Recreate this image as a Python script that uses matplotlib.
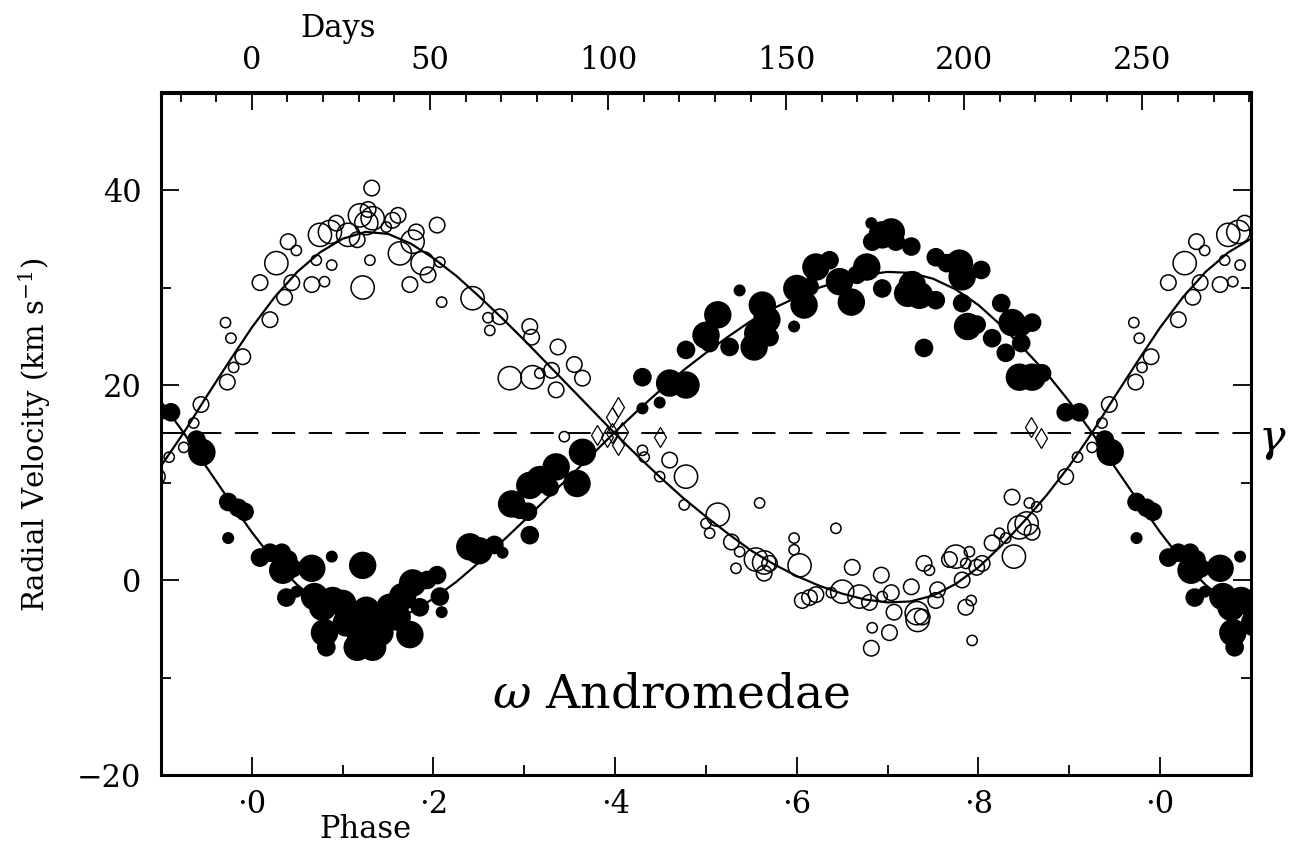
import numpy as np
import matplotlib
matplotlib.use('Agg')
import matplotlib.pyplot as plt
from matplotlib.ticker import MultipleLocator, FixedLocator

plt.rcParams['font.family'] = ['DejaVu Serif']
plt.rcParams['mathtext.fontset'] = 'dejavuserif'

PERIOD = 255.0     # days per phase unit (top axis)
GAMMA = 15.1       # systemic velocity

# primary (open circles): phase, velocity, size class
open_phase = [0.009, 0.020, 0.027, 0.040, 0.049, 0.036, 0.044, 0.066, 0.080, 0.071,
              0.088, 0.075, 0.086, 0.093, 0.116, 0.106, 0.119, 0.126, 0.133, 0.128,
              0.132, 0.130, 0.122, 0.148, 0.155, 0.161, 0.163, 0.177, 0.181, 0.188,
              0.194, 0.174, 0.204, 0.207, 0.209, 0.243, 0.260, 0.262, 0.273, 0.306,
              0.308, 0.337, 0.284, 0.309, 0.317, 0.330, 0.335, 0.355, 0.364, 0.344,
              0.430, 0.432, 0.460, 0.478, 0.449, 0.476, 0.500, 0.504, 0.513, 0.528,
              0.537, 0.533, 0.559, 0.555, 0.564, 0.564, 0.570, 0.597, 0.597, 0.603,
              0.643, 0.606, 0.614, 0.621, 0.638, 0.650, 0.661, 0.669, 0.680, 0.693,
              0.694, 0.704, 0.707, 0.683, 0.702, 0.682, 0.726, 0.732, 0.733, 0.738,
              0.755, 0.753, 0.740, 0.746, 0.768, 0.775, 0.786, 0.782, 0.786, 0.792,
              0.790, 0.793, 0.798, 0.804, 0.815, 0.823, 0.830, 0.837, 0.839, 0.845,
              0.853, 0.856, 0.864, 0.859, 0.896, 0.909, 0.925, 0.936, 0.944, 0.971,
              0.977, 0.990, 0.980, 0.973]
open_vel = [30.5, 26.7, 32.5, 34.7, 33.8, 29.0, 30.5, 30.3, 30.6, 32.8,
            32.3, 35.4, 35.7, 36.6, 34.9, 35.4, 37.4, 36.6, 37.1, 38.0,
            40.2, 32.8, 30.0, 36.2, 36.9, 37.4, 33.5, 34.7, 35.7, 32.5,
            31.3, 30.3, 36.4, 32.6, 28.5, 28.9, 26.9, 25.6, 27.0, 26.0,
            24.9, 23.9, 20.7, 20.8, 21.2, 21.5, 19.5, 22.1, 20.7, 14.7,
            13.3, 12.6, 12.3, 10.6, 10.6, 7.7, 5.8, 4.8, 6.7, 3.9,
            2.9, 1.2, 7.9, 2.1, 1.8, 0.7, 1.7, 4.3, 3.1, 1.5,
            5.3, -2.1, -1.8, -1.5, -1.3, -1.2, 1.3, -1.7, -2.3, 0.5,
            -1.7, -1.3, -3.3, -4.9, -5.4, -7.0, -0.7, -3.4, -4.1, -3.8,
            -1.0, -2.1, 1.7, 1.0, 2.1, 2.4, 1.7, 0.0, -2.8, -2.1,
            2.9, -6.2, 1.3, 1.7, 3.8, 4.8, 4.3, 8.5, 2.4, 5.4,
            5.8, 7.9, 7.5, 4.9, 10.6, 12.6, 13.6, 16.1, 18.0, 26.4,
            24.8, 22.9, 21.8, 20.3]
open_size = [2, 2, 3, 2, 1, 2, 2, 2, 1, 1,
             1, 3, 3, 2, 2, 3, 3, 3, 3, 2,
             2, 1, 3, 1, 2, 2, 3, 3, 2, 3,
             2, 2, 2, 1, 1, 3, 1, 1, 2, 2,
             2, 2, 3, 3, 1, 2, 2, 2, 2, 1,
             1, 1, 2, 3, 1, 1, 1, 1, 3, 2,
             1, 1, 1, 3, 3, 2, 2, 1, 1, 3,
             1, 2, 2, 2, 1, 3, 2, 3, 2, 2,
             1, 2, 2, 1, 2, 2, 2, 3, 3, 2,
             2, 2, 2, 1, 2, 3, 1, 2, 2, 1,
             1, 1, 2, 2, 2, 1, 1, 2, 3, 3,
             3, 1, 1, 2, 2, 1, 1, 1, 2, 1,
             1, 2, 1, 2]

# secondary (filled circles)
fill_phase = [0.896, 0.911, 0.939, 0.945, 0.974, 0.985, 0.992, 0.974, 0.009, 0.020,
              0.033, 0.040, 0.034, 0.045, 0.038, 0.049, 0.066, 0.088, 0.122, 0.069,
              0.078, 0.089, 0.080, 0.082, 0.100, 0.104, 0.116, 0.119, 0.126, 0.137,
              0.141, 0.133, 0.152, 0.160, 0.174, 0.166, 0.177, 0.193, 0.204, 0.207,
              0.209, 0.185, 0.240, 0.250, 0.267, 0.276, 0.286, 0.295, 0.304, 0.306,
              0.317, 0.328, 0.335, 0.306, 0.358, 0.364, 0.430, 0.460, 0.478, 0.430,
              0.449, 0.478, 0.500, 0.504, 0.513, 0.526, 0.537, 0.553, 0.557, 0.562,
              0.567, 0.570, 0.597, 0.600, 0.608, 0.614, 0.621, 0.636, 0.647, 0.660,
              0.666, 0.677, 0.682, 0.683, 0.694, 0.704, 0.709, 0.694, 0.726, 0.727,
              0.722, 0.735, 0.753, 0.753, 0.740, 0.765, 0.779, 0.782, 0.782, 0.803,
              0.788, 0.798, 0.825, 0.815, 0.837, 0.848, 0.859, 0.830, 0.847, 0.845,
              0.859, 0.870]
fill_vel = [17.2, 17.2, 14.4, 13.1, 8.0, 7.4, 7.0, 4.3, 2.3, 2.8,
            2.8, 2.1, 1.0, 1.2, -1.8, -1.2, 1.2, 2.4, 1.5, -1.7,
            -2.8, -2.1, -5.4, -6.9, -2.4, -4.4, -6.9, -5.4, -3.1, -4.1,
            -5.4, -6.9, -2.8, -3.8, -5.6, -1.7, -0.3, 0.0, 0.5, -1.7,
            -3.3, -2.8, 3.4, 3.0, 3.6, 2.8, 7.8, 7.2, 7.0, 9.7,
            10.3, 9.5, 11.6, 4.6, 9.9, 13.1, 20.8, 20.2, 20.0, 17.6,
            18.2, 23.6, 25.1, 24.3, 27.2, 23.9, 29.7, 23.9, 25.3, 28.2,
            26.7, 24.9, 26.0, 29.9, 28.2, 30.1, 32.1, 32.8, 30.6, 28.5,
            31.3, 32.1, 36.6, 34.7, 35.4, 35.7, 34.7, 29.9, 34.2, 30.3,
            29.4, 29.2, 28.7, 33.1, 23.8, 32.5, 32.5, 31.1, 28.4, 31.8,
            26.0, 26.2, 28.4, 24.8, 26.4, 26.0, 26.4, 23.3, 24.3, 20.8,
            20.8, 21.2]
fill_size = [2, 2, 2, 3, 2, 2, 2, 1, 2, 2,
             2, 2, 3, 2, 2, 1, 3, 1, 3, 3,
             3, 3, 3, 2, 3, 3, 3, 3, 3, 3,
             3, 3, 3, 3, 3, 3, 3, 2, 2, 2,
             1, 2, 3, 3, 2, 1, 3, 2, 2, 3,
             3, 2, 3, 2, 3, 3, 2, 3, 3, 1,
             1, 2, 3, 2, 3, 2, 1, 3, 3, 3,
             3, 2, 1, 3, 3, 2, 3, 2, 3, 3,
             2, 3, 1, 2, 3, 3, 2, 2, 2, 3,
             3, 3, 2, 2, 2, 2, 3, 3, 2, 2,
             3, 2, 2, 2, 3, 2, 2, 2, 2, 3,
             3, 2]

# blended measurements (open diamonds)
diam_phase = [0.380, 0.391, 0.397, 0.397, 0.403, 0.408, 0.403, 0.449, 0.858, 0.869]
diam_vel = [14.9, 14.7, 15.1, 16.7, 17.7, 15.2, 13.8, 14.7, 15.7, 14.6]

# orbit curves, phase -0.1 ... 1.1 in steps of 0.025
curve_phase = np.linspace(-0.1, 1.1, 49)
curve_open = [11.7, 15.1, 18.8, 22.4,
              25.9, 29.0, 31.6, 33.6, 35.0, 35.7, 35.5, 34.5, 33.0, 31.2,
              29.1, 26.9, 24.6, 22.2, 19.8, 17.4, 15.0, 12.7, 10.5, 8.4,
              6.5, 4.7, 3.0, 1.6, 0.4, -0.6, -1.4, -2.0, -2.3, -2.2,
              -1.6, -0.4, 1.3, 3.5, 6.0, 8.7, 11.7, 15.1, 18.8, 22.4,
              25.9, 29.0, 31.6, 33.6, 35.0]
curve_fill = [18.3, 15.1, 11.6, 8.2,
              4.9, 1.9, -0.5, -2.4, -3.8, -4.4, -4.2, -3.3, -1.9, -0.2,
              1.8, 3.9, 6.1, 8.4, 10.6, 12.9, 15.2, 17.4, 19.5, 21.5,
              23.3, 25.0, 26.6, 27.9, 29.0, 30.0, 30.7, 31.3, 31.6, 31.5,
              30.9, 29.8, 28.2, 26.1, 23.7, 21.2, 18.3, 15.1, 11.6, 8.2,
              4.9, 1.9, -0.5, -2.4, -3.8]

phase_ticks = [0.0, 0.2, 0.4, 0.6, 0.8, 1.0]
phase_labels = ['\u00b70', '\u00b72', '\u00b74', '\u00b76', '\u00b78', '\u00b70']


def wrap(phase, vel, size=None):
    """repeat points one cycle before/after so they fill -0.1..1.1"""
    p = np.asarray(phase)
    v = np.asarray(vel)
    s = np.ones(len(p)) if size is None else np.asarray(size)
    ps, vs, ss = [p], [v], [s]
    for shift in (-1, 1):
        q = p + shift
        keep = (q >= -0.105) & (q <= 1.105)
        ps.append(q[keep])
        vs.append(v[keep])
        ss.append(s[keep])
    return np.concatenate(ps), np.concatenate(vs), np.concatenate(ss)


fig = plt.figure(figsize=(12.96, 8.57), dpi=100)
ax = fig.add_axes([161 / 1296, 1 - 775 / 857, 1090 / 1296, 682.5 / 857])

ax.plot(curve_phase, curve_open, color='black', lw=1.6, zorder=2)
ax.plot(curve_phase, curve_fill, color='black', lw=1.6, zorder=2)
ax.axhline(GAMMA, color='black', lw=1.4, dashes=(12, 7), zorder=1)

open_map = {1: 55, 2: 125, 3: 280}
fill_map = {1: 75, 2: 180, 3: 390}

x, y, s = wrap(open_phase, open_vel, open_size)
ax.scatter(x, y, s=[open_map[int(k)] for k in s], facecolors='none',
           edgecolors='black', linewidths=1.1, zorder=3)

x, y, s = wrap(fill_phase, fill_vel, fill_size)
ax.scatter(x, y, s=[fill_map[int(k)] for k in s], c='black',
           edgecolors='none', zorder=4)

x, y, s = wrap(diam_phase, diam_vel)
ax.plot(x, y, 'd', ms=10, mfc='none', mec='black', mew=0.9, zorder=3)

ax.set_xlim(-0.1, 1.1)
ax.set_ylim(-20, 50)

for sp in ax.spines.values():
    sp.set_linewidth(2.2)

ax.xaxis.set_major_locator(FixedLocator(phase_ticks))
ax.set_xticklabels(phase_labels)
ax.xaxis.set_minor_locator(FixedLocator([0.1, 0.3, 0.5, 0.7, 0.9]))
ax.yaxis.set_major_locator(FixedLocator([-20, 0, 20, 40]))
ax.yaxis.set_minor_locator(MultipleLocator(10))
ax.tick_params(which='both', direction='in', right=True, top=False,
               labelsize=22, width=1.3)
ax.tick_params(which='major', length=13)
ax.tick_params(which='minor', length=7)
ax.tick_params(axis='y', pad=14)
ax.tick_params(axis='x', pad=10)

top = ax.secondary_xaxis('top', functions=(lambda p: p * PERIOD, lambda d: d / PERIOD))
top.xaxis.set_major_locator(FixedLocator([0, 50, 100, 150, 200, 250]))
top.xaxis.set_minor_locator(MultipleLocator(10))
top.tick_params(which='both', direction='in', labelsize=22, width=1.3, pad=12)
top.tick_params(which='major', length=13)
top.tick_params(which='minor', length=7)
top.spines['top'].set_linewidth(2.2)

fig.text(338 / 1296, 1 - 28 / 857, 'Days', ha='center', va='center', fontsize=22)
fig.text(365 / 1296, 1 - 830 / 857, 'Phase', ha='center', va='center', fontsize=22)
fig.text(35 / 1296, 1 - 435 / 857, 'Radial Velocity (km s$^{-1}$)', rotation=90,
         ha='center', va='center', fontsize=21)

ax.text(0.462, -11.8, '$\\omega$ Andromedae', ha='center', va='center', fontsize=34)
fig.text(1272 / 1296, 1 - 440 / 857, '$\\gamma$', ha='center', va='center', fontsize=32)

fig.savefig('out.png', dpi=100)
